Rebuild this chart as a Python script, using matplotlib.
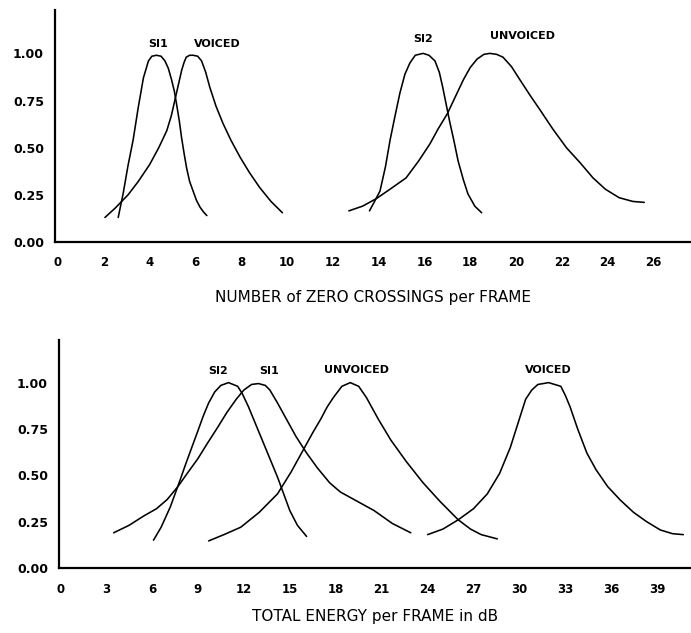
import matplotlib
matplotlib.use("Agg")
import matplotlib.pyplot as plt

# ---- Zero-crossing distributions (top panel) ----
zc_si1_x = [2.63, 2.85, 3.05, 3.28, 3.5, 3.73, 3.95, 4.1, 4.3, 4.5, 4.67, 4.82, 4.96, 5.08, 5.18,
            5.3, 5.4, 5.52, 5.62, 5.75, 5.9, 6.05, 6.2, 6.35, 6.5]
zc_si1_y = [0.13, 0.26, 0.40, 0.54, 0.71, 0.87, 0.96, 0.985, 0.99, 0.985, 0.96, 0.92, 0.86, 0.80, 0.73,
            0.64, 0.55, 0.46, 0.39, 0.32, 0.27, 0.22, 0.185, 0.16, 0.14]

zc_voiced_x = [2.05, 2.5, 3.06, 3.5, 4.0, 4.4, 4.75, 4.95, 5.1, 5.25, 5.4, 5.5, 5.6, 5.75, 5.9, 6.1,
               6.27, 6.45, 6.63, 6.9, 7.2, 7.55, 7.95, 8.35, 8.8, 9.3, 9.8]
zc_voiced_y = [0.13, 0.18, 0.25, 0.32, 0.41, 0.50, 0.59, 0.67, 0.75, 0.83, 0.91, 0.95, 0.98, 0.99, 0.99, 0.985,
               0.96, 0.90, 0.82, 0.72, 0.63, 0.54, 0.45, 0.37, 0.29, 0.215, 0.155]

zc_si2_x = [13.6, 13.8, 14.06, 14.3, 14.5, 14.72, 14.93, 15.15, 15.37, 15.6, 15.94, 16.2, 16.46, 16.65,
            16.8, 16.95, 17.1, 17.3, 17.47, 17.7, 17.9, 18.2, 18.5]
zc_si2_y = [0.165, 0.21, 0.27, 0.40, 0.54, 0.67, 0.79, 0.89, 0.95, 0.99, 1.0, 0.99, 0.96, 0.90,
            0.82, 0.73, 0.64, 0.53, 0.43, 0.33, 0.255, 0.19, 0.155]

zc_unv_x = [12.7, 13.3, 13.9, 14.5, 15.2, 15.75, 16.24, 16.6, 17.0, 17.35, 17.7, 18.0, 18.3, 18.6, 18.86,
            19.15, 19.43, 19.8, 20.17, 20.6, 21.05, 21.6, 22.2, 22.8, 23.36, 23.9, 24.5, 25.1, 25.6]
zc_unv_y = [0.165, 0.19, 0.23, 0.28, 0.34, 0.43, 0.52, 0.60, 0.68, 0.77, 0.86, 0.925, 0.97, 0.995, 1.0,
            0.995, 0.98, 0.93, 0.86, 0.78, 0.70, 0.60, 0.50, 0.42, 0.34, 0.28, 0.235, 0.215, 0.21]

# ---- Energy distributions (bottom panel) ----
en_si2_x = [6.1, 6.6, 7.2, 7.84, 8.2, 8.6, 9.0, 9.35, 9.7, 10.1, 10.5, 11.0, 11.6, 11.9, 12.3, 12.8,
            13.3, 13.75, 14.2, 14.6, 15.0, 15.5, 16.1]
en_si2_y = [0.15, 0.22, 0.33, 0.475, 0.56, 0.65, 0.74, 0.82, 0.89, 0.95, 0.985, 1.0, 0.98, 0.94, 0.87, 0.77,
            0.67, 0.58, 0.49, 0.40, 0.31, 0.23, 0.17]

en_si1_x = [3.5, 4.5, 5.45, 6.3, 7.0, 7.7, 8.3, 9.0, 9.6, 10.3, 10.9, 11.5, 12.0, 12.5, 12.95, 13.4,
            13.7, 14.2, 14.8, 15.4, 16.1, 16.8, 17.6, 18.3, 19.4, 20.5, 21.7, 22.9]
en_si1_y = [0.19, 0.23, 0.28, 0.32, 0.37, 0.44, 0.51, 0.59, 0.67, 0.76, 0.84, 0.91, 0.96, 0.99, 0.995, 0.985,
            0.96, 0.89, 0.80, 0.71, 0.62, 0.54, 0.46, 0.41, 0.36, 0.31, 0.24, 0.19]

en_unv_x = [9.7, 10.7, 11.8, 13.0, 14.2, 15.1, 15.9, 16.5, 17.0, 17.45, 17.85, 18.4, 18.95, 19.5, 20.0,
            20.8, 21.6, 22.6, 23.7, 24.8, 26.0, 26.8, 27.5, 28.55]
en_unv_y = [0.146, 0.18, 0.22, 0.30, 0.40, 0.52, 0.64, 0.73, 0.80, 0.87, 0.92, 0.98, 1.0, 0.98, 0.92,
            0.80, 0.69, 0.575, 0.46, 0.36, 0.26, 0.21, 0.18, 0.157]

en_voiced_x = [24.0, 25.0, 26.0, 27.0, 27.9, 28.7, 29.4, 29.9, 30.4, 30.8, 31.2, 31.9, 32.7, 33.0, 33.3,
               33.8, 34.4, 35.0, 35.75, 36.6, 37.45, 38.3, 39.2, 40.0, 40.7]
en_voiced_y = [0.18, 0.21, 0.26, 0.32, 0.40, 0.51, 0.65, 0.78, 0.91, 0.96, 0.99, 1.0, 0.98, 0.93, 0.87,
               0.75, 0.62, 0.53, 0.44, 0.365, 0.30, 0.25, 0.205, 0.185, 0.18]

y_ticks = [0.0, 0.25, 0.50, 0.75, 1.00]
zc_ticks = list(range(0, 27, 2))
en_ticks = list(range(0, 40, 3))

zc_label = "NUMBER of ZERO CROSSINGS per FRAME"
en_label = "TOTAL ENERGY per FRAME in dB"

# curve name annotations: (text, x, y)
zc_names = [("SI1", 4.37, 1.05), ("VOICED", 6.97, 1.05), ("SI2", 15.94, 1.075), ("UNVOICED", 20.3, 1.09)]
en_names = [("SI2", 10.3, 1.06), ("SI1", 13.66, 1.06), ("UNVOICED", 19.35, 1.07), ("VOICED", 31.9, 1.07)]

fig = plt.figure(figsize=(6.91, 6.33), dpi=100)
fig.patch.set_facecolor("white")

ax1 = fig.add_axes([0.0796, 0.6177, 0.9204, 0.3665])
ax2 = fig.add_axes([0.0854, 0.1027, 0.9146, 0.3602])

line_kw = dict(color="black", lw=1.15, solid_capstyle="round", solid_joinstyle="round")


def style(ax, xlim, ticks, xlabel, tick_pad, label_pad):
    ax.set_xlim(*xlim)
    ax.set_ylim(0, 1.23)
    for s in ("top", "right"):
        ax.spines[s].set_visible(False)
    for s in ("left", "bottom"):
        ax.spines[s].set_linewidth(1.6)
        ax.spines[s].set_color("black")
    ax.set_xticks(ticks)
    ax.set_xticklabels([str(t) for t in ticks])
    ax.set_yticks(y_ticks)
    ax.set_yticklabels([f"{v:.2f}" for v in y_ticks])
    ax.tick_params(axis="x", length=0, pad=tick_pad, labelsize=8.5)
    ax.tick_params(axis="y", length=0, pad=8, labelsize=9)
    for lab in ax.get_xticklabels() + ax.get_yticklabels():
        lab.set_fontweight("bold")
    ax.set_xlabel(xlabel, fontsize=11, labelpad=label_pad)


ax1.plot(zc_si1_x, zc_si1_y, **line_kw)
ax1.plot(zc_voiced_x, zc_voiced_y, **line_kw)
ax1.plot(zc_si2_x, zc_si2_y, **line_kw)
ax1.plot(zc_unv_x, zc_unv_y, **line_kw)
for txt, x, y in zc_names:
    ax1.text(x, y, txt, ha="center", va="center", fontsize=8, fontweight="bold")
style(ax1, (-0.13, 27.64), zc_ticks, zc_label, 10, 15.5)

ax2.plot(en_si2_x, en_si2_y, **line_kw)
ax2.plot(en_si1_x, en_si1_y, **line_kw)
ax2.plot(en_unv_x, en_unv_y, **line_kw)
ax2.plot(en_voiced_x, en_voiced_y, **line_kw)
for txt, x, y in en_names:
    ax2.text(x, y, txt, ha="center", va="center", fontsize=8, fontweight="bold")
style(ax2, (-0.07, 41.2), en_ticks, en_label, 11, 9)

fig.savefig("out.png", dpi=100, facecolor="white")
